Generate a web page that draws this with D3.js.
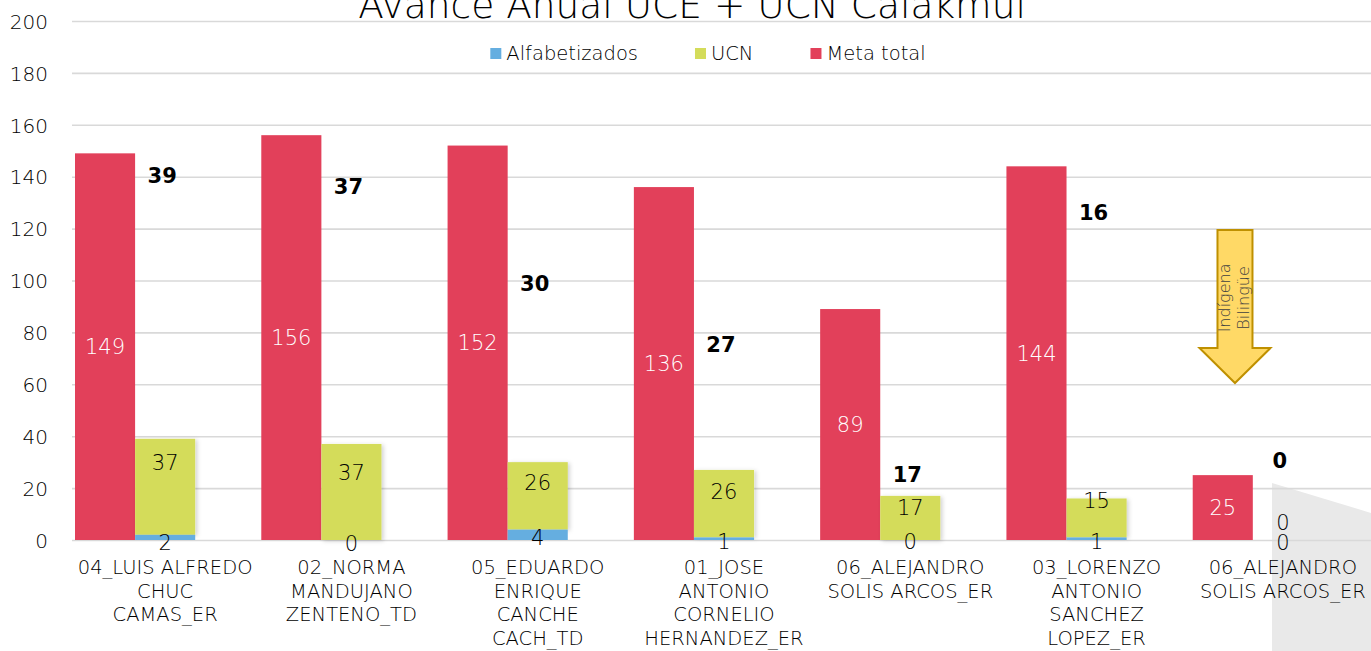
<!DOCTYPE html>
<html>
<head>
<meta charset="utf-8">
<script src="https://cdn.jsdelivr.net/npm/d3@7"></script>
<style>
  html, body { margin: 0; padding: 0; background: #ffffff; }
  svg { display: block; }
  text { font-family: "DejaVu Sans", "Liberation Sans", sans-serif; font-weight: 200; }
</style>
</head>
<body>
<svg id="chart" width="1371" height="651"></svg>
<script>
// ---------- data ----------
const title = "Avance Anual UCE + UCN Calakmul";
const categories = [
  "04_LUIS ALFREDO\nCHUC\nCAMAS_ER",
  "02_NORMA\nMANDUJANO\nZENTENO_TD",
  "05_EDUARDO\nENRIQUE\nCANCHE\nCACH_TD",
  "01_JOSE\nANTONIO\nCORNELIO\nHERNANDEZ_ER",
  "06_ALEJANDRO\nSOLIS ARCOS_ER",
  "03_LORENZO\nANTONIO\nSANCHEZ\nLOPEZ_ER",
  "06_ALEJANDRO\nSOLIS ARCOS_ER"
];
const alfabetizados = [2, 0, 4, 1, 0, 1, 0];
const ucn = [37, 37, 26, 26, 17, 15, 0];
const metaTotal = [149, 156, 152, 136, 89, 144, 25];
const totals = [39, 37, 30, 27, 17, 16, 0];
const seriesNames = ["Alfabetizados", "UCN", "Meta total"];
const yTicks = [0, 20, 40, 60, 80, 100, 120, 140, 160, 180, 200];
// label anchor heights (value units) as placed in the original
const totalLabelAt = [140.3, 136.4, 99.0, 75.3, 25.4, 126.4, 30.8];
const ucnLabelAt = [29.7, 26.2, 22.0, 18.9, 12.7, 15.4, 6.6];
const alfLabelAt = [-0.8, -1.2, 0.8, -0.4, -0.4, -0.4, -0.8];
const annotationLines = ["Indígena", "Bilingüe"];

// ---------- styles ----------
const colors = { "Alfabetizados": "#65AEE0", "UCN": "#D4DC5A", "Meta total": "#E2405A" };
const W = 1371, H = 651;
const svg = d3.select("#chart");

const x = d3.scaleBand().domain(d3.range(categories.length)).range([72, 1376]).padding(0);
const xi = d3.scaleBand().domain(["meta", "stack", "none"]).range([0, x.bandwidth()])
  .paddingInner(0).paddingOuter(0.05);
const y = d3.scaleLinear().domain([0, 200]).range([540, 21]);

// background decoration (grey page shape bottom-right)
svg.append("polygon")
  .attr("points", [[1272, 483], [W + 40, 525], [W + 40, H], [1272, H]].map(p => p.join(",")).join(" "))
  .attr("fill", "#e9e9e9");

// defs: soft shadow
const defs = svg.append("defs");
const f = defs.append("filter").attr("id", "sh").attr("x", "-10%").attr("y", "-10%").attr("width", "130%").attr("height", "130%");
f.append("feDropShadow").attr("dx", 2).attr("dy", 1).attr("stdDeviation", 2)
  .attr("flood-color", "#000").attr("flood-opacity", 0.18);

// gridlines + y axis
const yAxis = d3.axisLeft(y).tickValues(yTicks).tickSize(-(1376 - 72)).tickPadding(24);
const gy = svg.append("g").attr("transform", "translate(72,0)").call(yAxis);
gy.select(".domain").remove();
gy.selectAll(".tick line").attr("stroke", "#d9d9d9").attr("stroke-width", 1.6);
gy.selectAll(".tick text").attr("font-size", 20).attr("fill", "#000")
  .attr("font-family", "DejaVu Sans").attr("font-weight", 200).attr("dy", "0.36em");

// title
svg.append("text").attr("x", 692).attr("y", 18).attr("text-anchor", "middle")
  .attr("font-size", 37.5).attr("fill", "#000").text(title);

// legend
const leg = svg.append("g");
let lx = 0;
seriesNames.forEach(n => {
  const g = leg.append("g").attr("transform", `translate(${lx},0)`);
  g.append("rect").attr("x", 0).attr("y", 48).attr("width", 11).attr("height", 11).attr("fill", colors[n]);
  const t = g.append("text").attr("x", 16).attr("y", 60).attr("font-size", 19.5).attr("fill", "#000").text(n);
  lx += 16 + t.node().getComputedTextLength() + 57;
});
const legW = lx - 57;
leg.attr("transform", `translate(${708 - legW / 2},0)`);

// bars
const groups = svg.append("g").selectAll("g").data(d3.range(categories.length)).join("g")
  .attr("transform", i => `translate(${x(i)},0)`);

groups.append("rect")
  .attr("x", xi("meta")).attr("width", xi.bandwidth())
  .attr("y", i => y(metaTotal[i])).attr("height", i => y(0) - y(metaTotal[i]))
  .attr("fill", colors["Meta total"]);

groups.append("rect")
  .attr("x", xi("stack")).attr("width", xi.bandwidth())
  .attr("y", i => y(alfabetizados[i] + ucn[i])).attr("height", i => y(alfabetizados[i]) - y(alfabetizados[i] + ucn[i]))
  .attr("fill", colors["UCN"]).attr("filter", i => ucn[i] > 0 ? "url(#sh)" : null);

groups.append("rect")
  .attr("x", xi("stack")).attr("width", xi.bandwidth())
  .attr("y", i => y(alfabetizados[i])).attr("height", i => y(0) - y(alfabetizados[i]))
  .attr("fill", colors["Alfabetizados"]);

// value labels
const cx = k => xi(k) + xi.bandwidth() / 2;
groups.append("text").attr("x", cx("meta")).attr("y", i => y(metaTotal[i] / 2)).attr("dy", "0.36em")
  .attr("text-anchor", "middle").attr("font-size", 21).attr("fill", "#ffffff").text(i => metaTotal[i]);
groups.append("text").attr("x", cx("stack")).attr("y", i => y(ucnLabelAt[i])).attr("dy", "0.36em")
  .attr("text-anchor", "middle").attr("font-size", 21).attr("fill", "#000").text(i => ucn[i]);
groups.append("text").attr("x", cx("stack")).attr("y", i => y(alfLabelAt[i])).attr("dy", "0.36em")
  .attr("text-anchor", "middle").attr("font-size", 21).attr("fill", "#000").text(i => alfabetizados[i]);
groups.append("text").attr("x", cx("stack") - 3).attr("y", i => y(totalLabelAt[i])).attr("dy", "0.36em")
  .attr("text-anchor", "middle").attr("font-size", 21).style("font-weight", "bold").attr("fill", "#000").text(i => totals[i]);

// category labels
groups.each(function (i) {
  const t = d3.select(this).append("text").attr("text-anchor", "middle").attr("font-size", 19.5).attr("fill", "#000");
  categories[i].split("\n").forEach((line, k) => {
    t.append("tspan").attr("x", x.bandwidth() / 2).attr("y", 574 + k * 23.7).text(line);
  });
});

// annotation arrow "Indígena Bilingüe" over last category
const last = categories.length - 1;
const ax = x(last) + x.bandwidth() * 0.243;
const aTop = y(119.5), aHead = y(74), aTip = y(60.5);
const sw = 17.5, hw = 35.5;
svg.append("path")
  .attr("d", `M${ax - sw},${aTop} L${ax + sw},${aTop} L${ax + sw},${aHead} L${ax + hw},${aHead} L${ax},${aTip} L${ax - hw},${aHead} L${ax - sw},${aHead} Z`)
  .attr("fill", "#FFD966").attr("stroke", "#BF9000").attr("stroke-width", 2).attr("stroke-linejoin", "miter");
const at = svg.append("text")
  .attr("transform", `translate(${ax},${(aTop + aHead) / 2 + 9}) rotate(-90)`)
  .attr("text-anchor", "middle").attr("font-size", 16).attr("fill", "#404040");
annotationLines.forEach((l, k) => {
  at.append("tspan").attr("x", 0).attr("y", (k - 0.5) * 19 + 5).text(l);
});
</script>
</body>
</html>
